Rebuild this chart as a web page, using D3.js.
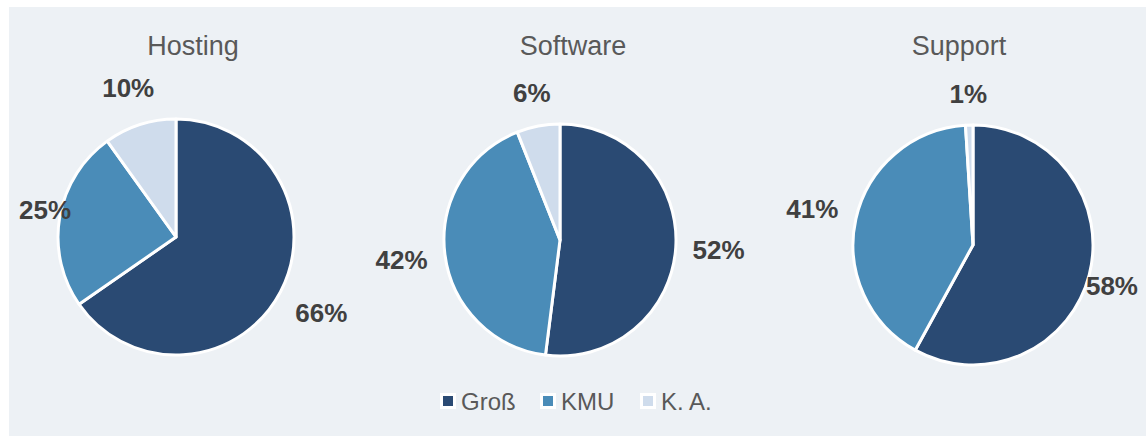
<!DOCTYPE html>
<html>
<head>
<meta charset="utf-8">
<script src="https://cdn.jsdelivr.net/npm/d3@7"></script>
<style>
  body { margin: 0; background: #fff; }
  svg { display: block; font-family: Arial, "Liberation Sans", sans-serif; }
</style>
</head>
<body>
<div id="chart"></div>
<script>
const width = 1146;
const height = 436;

// data
const charts = ["Hosting", "Software", "Support"];
const categories = ["Groß", "KMU", "K. A."];
const hosting = [66, 25, 10];
const software = [52, 42, 6];
const support = [58, 41, 1];
const seriesValues = [hosting, software, support];

const colors = ["#2a4a73", "#4a8cb8", "#cfdcec"];

// layout per panel
const panels = [
    { cx: 176, cy: 237, r: 118, titleX: 193 },
    { cx: 560, cy: 240, r: 116, titleX: 573 },
    { cx: 973, cy: 245, r: 120, titleX: 959 }
];
const labelMinX = 19, labelMaxX = 1138;

const svg = d3.select("#chart").append("svg")
    .attr("width", width)
    .attr("height", height);

svg.append("rect")
    .attr("x", 9)
    .attr("y", 7)
    .attr("width", width - 9)
    .attr("height", height - 7)
    .attr("fill", "#edf1f5");

const color = d3.scaleOrdinal()
    .domain(categories)
    .range(colors);

const pie = d3.pie()
    .sort(null)
    .value(d => d.value);

charts.forEach((name, i) => {
    const p = panels[i];
    const data = categories.map((c, j) => ({ cat: c, value: seriesValues[i][j] }));
    const arcs = pie(data);

    const arc = d3.arc()
        .innerRadius(0)
        .outerRadius(p.r);

    svg.append("text")
        .attr("x", p.titleX)
        .attr("y", 55)
        .attr("text-anchor", "middle")
        .attr("font-size", "27px")
        .attr("fill", "#595959")
        .text(name);

    const g = svg.append("g")
        .attr("transform", `translate(${p.cx},${p.cy})`);

    g.selectAll("path")
        .data(arcs)
        .enter().append("path")
        .attr("d", arc)
        .attr("fill", d => color(d.data.cat))
        .attr("stroke", "#fff")
        .attr("stroke-width", 3)
        .attr("stroke-linejoin", "round");

    // outside labels: push the text box just beyond the rim,
    // but keep it inside the chart area
    g.selectAll("text.lbl")
        .data(arcs)
        .enter().append("text")
        .attr("class", "lbl")
        .attr("font-size", "26px")
        .attr("font-weight", "bold")
        .attr("fill", "#404040")
        .attr("text-anchor", "middle")
        .attr("dy", "0.35em")
        .text(d => d.data.value + "%")
        .each(function(d) {
            const a = (d.startAngle + d.endAngle) / 2;
            const bb = this.getBBox();
            const sx = Math.sin(a), sy = -Math.cos(a);
            const ext = Math.abs(sx) * bb.width / 2 + Math.abs(sy) * bb.height / 2;
            const rr = p.r + 16 + ext;
            let x = p.cx + sx * rr;
            x = Math.max(labelMinX + bb.width / 2, Math.min(labelMaxX - bb.width / 2, x));
            d3.select(this)
                .attr("x", x - p.cx)
                .attr("y", sy * rr);
        });
});

// legend
const legendX = [440, 540, 640];
const legend = svg.append("g");

const items = legend.selectAll("g")
    .data(categories)
    .enter().append("g")
    .attr("transform", (d, i) => `translate(${legendX[i]},393)`);

items.append("rect")
    .attr("x", 1.5)
    .attr("y", 1.5)
    .attr("width", 13)
    .attr("height", 13)
    .attr("fill", d => color(d))
    .attr("stroke", "#fff")
    .attr("stroke-width", 3);

items.append("text")
    .attr("x", 21)
    .attr("y", 17)
    .attr("font-size", "24px")
    .attr("fill", "#595959")
    .text(d => d);
</script>
</body>
</html>
